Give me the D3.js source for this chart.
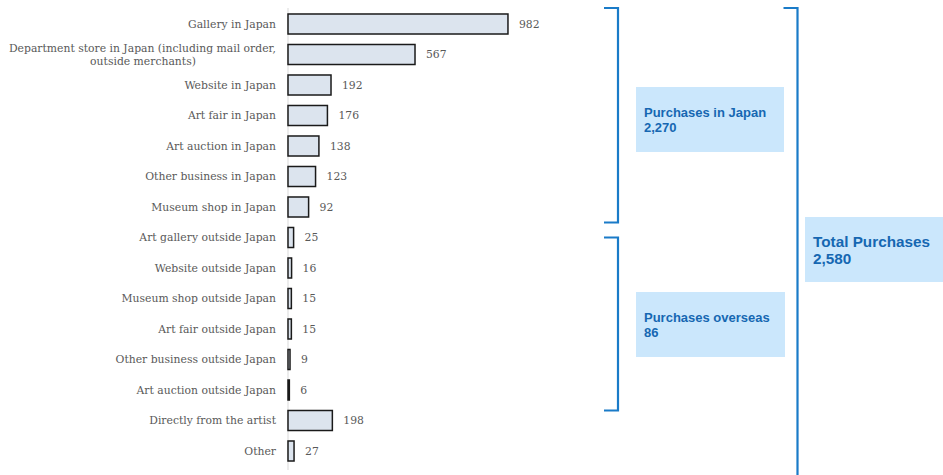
<!DOCTYPE html>
<html>
<head>
<meta charset="utf-8">
<script src="https://cdn.jsdelivr.net/npm/d3@7"></script>
<style>
  html, body { margin: 0; padding: 0; background: #ffffff; }
  svg { display: block; }
</style>
</head>
<body>
<svg id="chart" width="943" height="475"></svg>
<script>
// Purchase channels and counts
const categories = [
  "Gallery in Japan",
  "Department store in Japan (including mail order,|outside merchants)",
  "Website in Japan",
  "Art fair in Japan",
  "Art auction in Japan",
  "Other business in Japan",
  "Museum shop in Japan",
  "Art gallery outside Japan",
  "Website outside Japan",
  "Museum shop outside Japan",
  "Art fair outside Japan",
  "Other business outside Japan",
  "Art auction outside Japan",
  "Directly from the artist",
  "Other"
];
const values = [982, 567, 192, 176, 138, 123, 92, 25, 16, 15, 15, 9, 6, 198, 27];

// Group totals shown beside the brackets
const groupLabels = ["Purchases in Japan", "Purchases overseas", "Total Purchases"];
const groupTotals = [2270, 86, 2580];

const svg = d3.select("#chart");
const fmt = d3.format(",");

const x0 = 288;
const x = d3.scaleLinear().domain([0, 1000]).range([x0, x0 + 224]);
const y = d3.scaleBand().domain(categories).range([8.75, 466.25]).paddingInner(0.344).paddingOuter(0.172);

// axis baseline
svg.append("line")
  .attr("x1", x0).attr("x2", x0)
  .attr("y1", 8).attr("y2", 470)
  .attr("stroke", "#d9d9d9").attr("stroke-width", 1);

// bars
svg.append("g").selectAll("rect")
  .data(categories)
  .join("rect")
  .attr("x", x(0))
  .attr("y", d => y(d))
  .attr("width", (d, i) => x(values[i]) - x(0))
  .attr("height", y.bandwidth())
  .attr("fill", "#dce4ee")
  .attr("stroke", "#1a1a1a")
  .attr("stroke-width", 1.5);

// category labels
const serif = "'DejaVu Serif', serif";
const lab = svg.append("g")
  .attr("font-family", serif)
  .attr("font-size", 10.8)
  .attr("fill", "#595959")
  .attr("text-anchor", "end");

categories.forEach(c => {
  const lines = c.split("|");
  const cy = y(c) + y.bandwidth() / 2;
  const t = lab.append("text").attr("x", 276);
  if (lines.length === 1) {
    t.attr("y", cy).attr("dy", "0.35em").text(lines[0]);
  } else {
    t.append("tspan").attr("x", 276).attr("y", cy - 6.5).attr("dy", "0.35em").text(lines[0]);
    t.append("tspan").attr("x", 143).attr("y", cy + 6.5).attr("dy", "0.35em")
      .attr("text-anchor", "middle").text(lines[1]);
  }
});

// value labels
svg.append("g")
  .attr("font-family", serif)
  .attr("font-size", 10.8)
  .attr("fill", "#595959")
  .selectAll("text")
  .data(categories)
  .join("text")
  .attr("x", (d, i) => x(values[i]) + 11)
  .attr("y", d => y(d) + y.bandwidth() / 2)
  .attr("dy", "0.35em")
  .text((d, i) => values[i]);

// brackets with group totals
const blue = "#1a7bc8";
const brackets = [
  { x: 618, y1: 8, y2: 222.5, hook: 14, box: [636, 87, 148, 65], fs: 13, lh: 14.5 },
  { x: 618, y1: 237.5, y2: 410.5, hook: 14, box: [636, 292, 149, 65], fs: 13, lh: 14.5 },
  { x: 797.5, y1: 8, y2: 480, hook: 14, box: [805, 217, 150, 65], fs: 15.3, lh: 17 }
];

brackets.forEach((b, i) => {
  svg.append("path")
    .attr("d", `M${b.x - b.hook},${b.y1} H${b.x} V${b.y2} H${b.x - b.hook}`)
    .attr("fill", "none")
    .attr("stroke", blue)
    .attr("stroke-width", 2.2);
  const [bx, by, bw, bh] = b.box;
  svg.append("rect")
    .attr("x", bx).attr("y", by).attr("width", bw).attr("height", bh)
    .attr("fill", "#cbe7fc");
  const t = svg.append("text")
    .attr("font-family", "'Liberation Sans', Arial, sans-serif")
    .attr("font-weight", "bold")
    .attr("font-size", b.fs)
    .attr("fill", "#1667b2");
  const firstBase = i === 2 ? by + 30 : by + 30;
  t.append("tspan").attr("x", bx + 8).attr("y", firstBase).text(groupLabels[i]);
  t.append("tspan").attr("x", bx + 8).attr("y", firstBase + b.lh).text(fmt(groupTotals[i]));
});
</script>
</body>
</html>
